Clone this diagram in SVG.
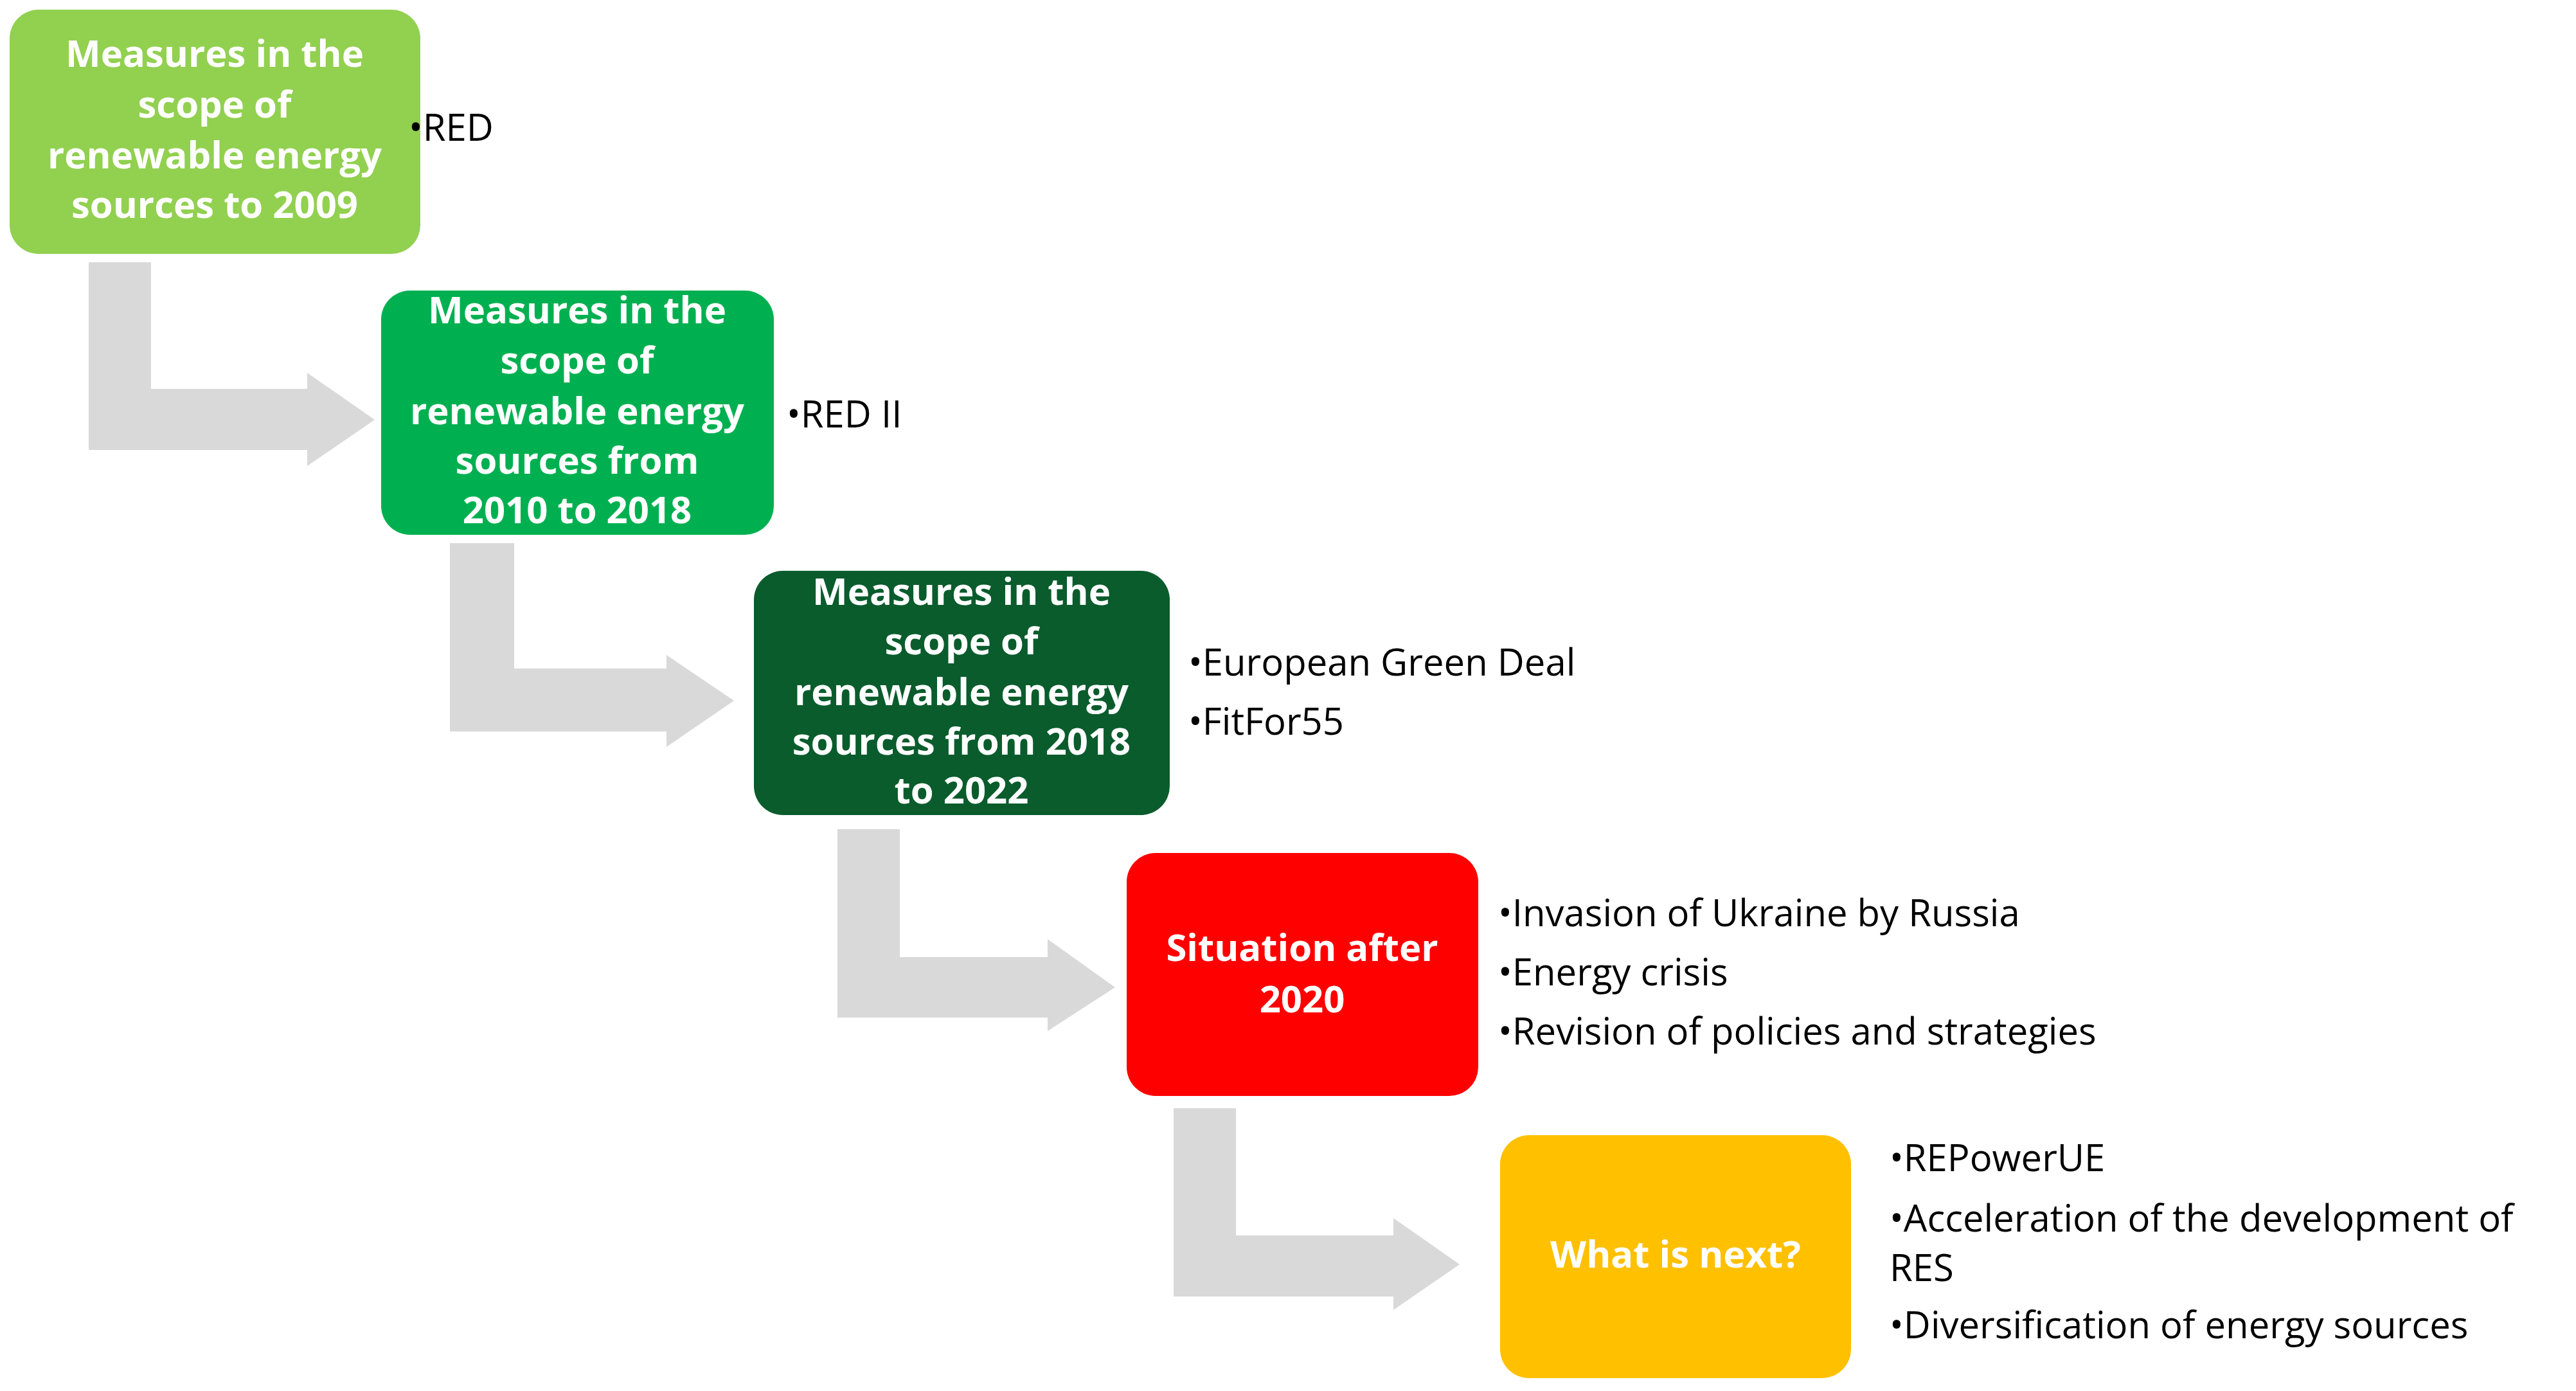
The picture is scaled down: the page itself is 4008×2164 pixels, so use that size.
<svg xmlns="http://www.w3.org/2000/svg" width="4008" height="2164" viewBox="0 0 4008 2164">
<style>
.bt{font-family:"Open Sans","Liberation Sans",sans-serif;font-weight:bold;font-size:58px;fill:#fff;text-anchor:middle}
.lt{font-family:"Open Sans","Liberation Sans",sans-serif;font-size:58px;fill:#000}
.ar{fill:#D9D9D9}
</style>
<rect width="4008" height="2164" fill="#fff"/>
<g id="connectors">
<path class="ar" d="M138 408H235V605H478V580L583 653L478 725V700H138Z"/>
<path class="ar" d="M700 845H800V1040H1037V1019L1142 1090L1037 1162V1138H700Z"/>
<path class="ar" d="M1303 1290H1400V1489H1630V1461L1735 1536L1630 1604V1583H1303Z"/>
<path class="ar" d="M1826 1724H1923V1922H2168V1895L2271 1967L2168 2038V2017H1826Z"/>
</g>
<g id="n1">
<rect x="15" y="15" width="639" height="380" rx="45" fill="#92D050"/>
<text class="bt"><tspan x="334" y="104">Measures in the</tspan><tspan x="334" y="183">scope of</tspan><tspan x="334" y="262">renewable energy</tspan><tspan x="334" y="339">sources to 2009</tspan></text>
<text class="lt" x="636" y="219">•RED</text>
</g>
<g id="n2">
<rect x="593" y="452" width="611" height="380" rx="45" fill="#00B050"/>
<text class="bt"><tspan x="898" y="503">Measures in the</tspan><tspan x="898" y="581">scope of</tspan><tspan x="898" y="660">renewable energy</tspan><tspan x="898" y="737">sources from</tspan><tspan x="898" y="814">2010 to 2018</tspan></text>
<text class="lt" x="1224" y="665">•RED II</text>
</g>
<g id="n3">
<rect x="1173" y="888" width="647" height="380" rx="45" fill="#0A5C2C"/>
<text class="bt"><tspan x="1496" y="941">Measures in the</tspan><tspan x="1496" y="1018">scope of</tspan><tspan x="1496" y="1097">renewable energy</tspan><tspan x="1496" y="1174">sources from 2018</tspan><tspan x="1496" y="1250">to 2022</tspan></text>
<text class="lt"><tspan x="1849" y="1051">•European Green Deal</tspan><tspan x="1849" y="1143">•FitFor55</tspan></text>
</g>
<g id="n4">
<rect x="1753" y="1327" width="547" height="378" rx="45" fill="#FF0000"/>
<text class="bt"><tspan x="2026" y="1495">Situation after</tspan><tspan x="2026" y="1575">2020</tspan></text>
<text class="lt"><tspan x="2331" y="1441">•Invasion of Ukraine by Russia</tspan><tspan x="2331" y="1533">•Energy crisis</tspan><tspan x="2331" y="1625">•Revision of policies and strategies</tspan></text>
</g>
<g id="n5">
<rect x="2334" y="1766" width="546" height="378" rx="45" fill="#FFC000"/>
<text class="bt" x="2607" y="1972">What is next?</text>
<text class="lt"><tspan x="2940" y="1822">•REPowerUE</tspan><tspan x="2940" y="1916">•Acceleration of the development of</tspan><tspan x="2940" y="1993">RES</tspan><tspan x="2940" y="2082">•Diversification of energy sources</tspan></text>
</g>
</svg>
